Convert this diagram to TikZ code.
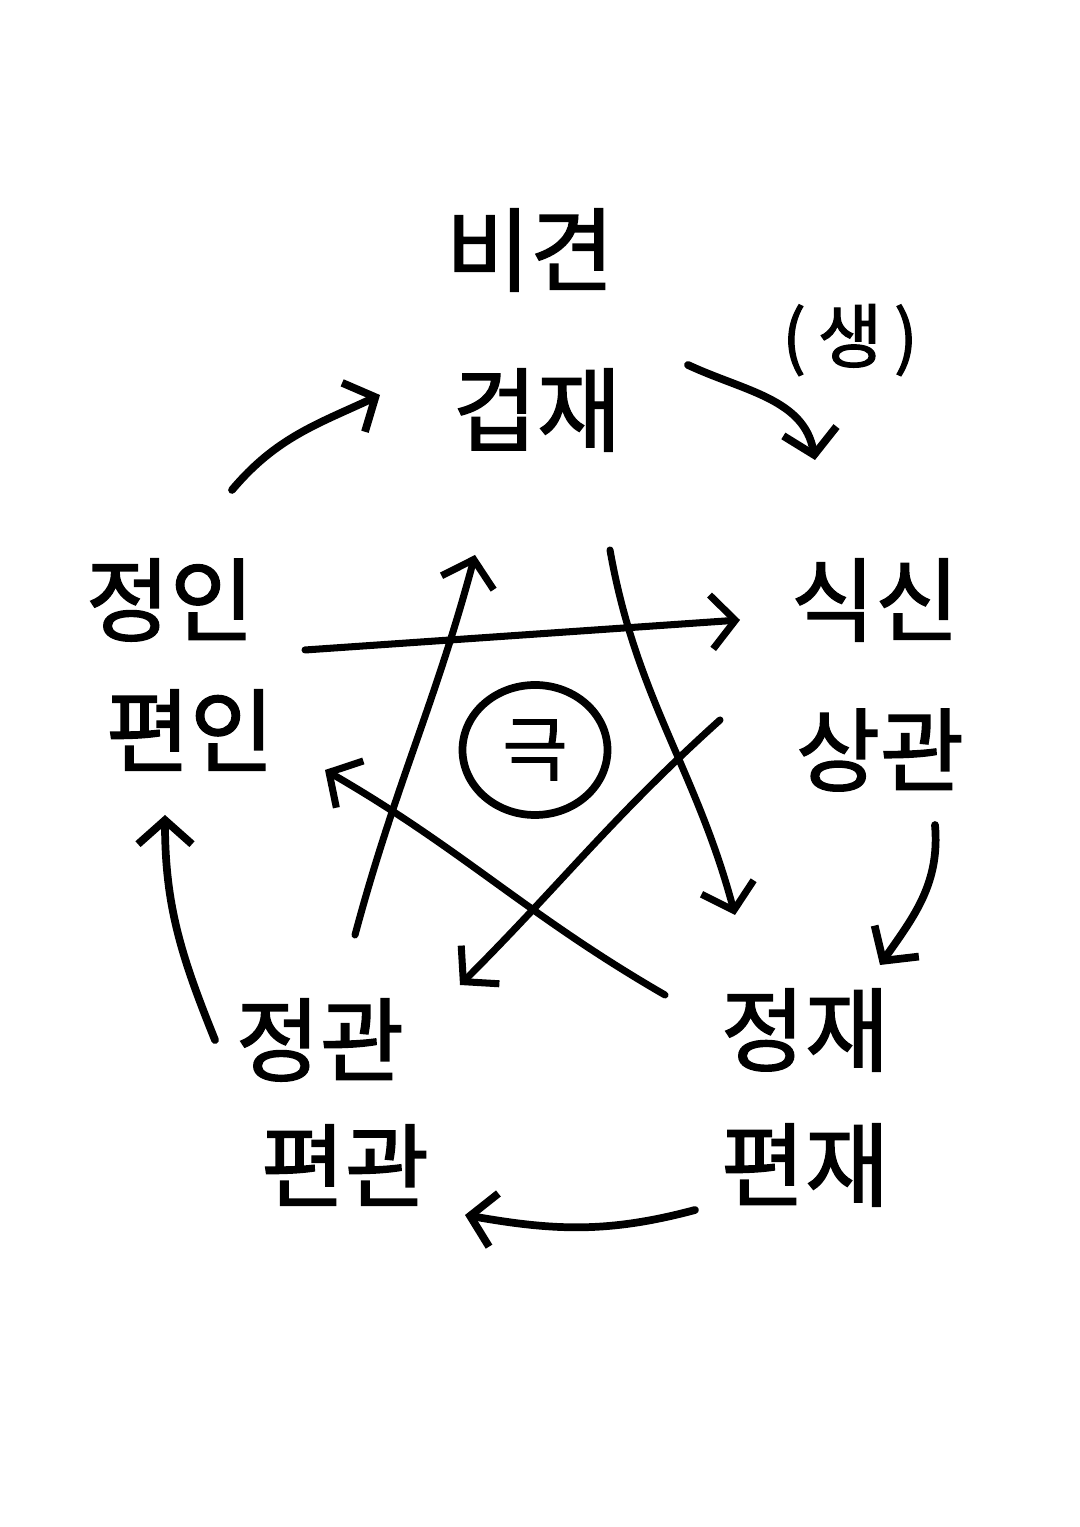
\documentclass[tikz,border=0pt]{standalone}
\usepackage{fontspec}
\setmainfont{Noto Sans CJK KR}
\newfontfamily\handfont[FakeBold=1.6]{Noto Sans CJK KR}
\usetikzlibrary{arrows.meta, shapes.geometric}

\begin{document}
\begin{tikzpicture}[>={Straight Barb[length=2.4mm,width=5.4mm]},
  word/.style={font=\handfont\fontsize{26}{30}\selectfont, inner sep=1pt},
  saeng/.style={->, line width=2.2pt, line cap=round},
  geuk/.style={->, line width=2pt, line cap=round}]
  \useasboundingbox (0,0) rectangle (10.8,15.27);
  \fill[white] (0,0) rectangle (10.8,15.27);
  % labels
  \node[word] (bigyeon)   at (5.30,12.77) {비견};
  \node[word, font=\handfont\fontsize{20}{24}\selectfont] (saenglbl) at (8.50,11.87) {(\,생\,)};
  \node[word] (geopjae)   at (5.37,11.17) {겁재};
  \node[word] (siksin)    at (8.75,9.27)  {식신};
  \node[word] (sanggwan)  at (8.80,7.77)  {상관};
  \node[word] (jeongin)   at (1.70,9.27)  {정인};
  \node[word] (pyeonin)   at (1.90,7.97)  {편인};
  \node[word] (jeonggwan) at (3.20,4.87)  {정관};
  \node[word] (pyeongwan) at (3.45,3.62)  {편관};
  \node[word] (jeongjae)  at (8.05,4.97)  {정재};
  \node[word] (pyeonjae)  at (8.05,3.62)  {편재};
  \node[ellipse, draw, line width=2.2pt, minimum width=1.45cm, minimum height=1.3cm,
        font=\handfont\fontsize{20}{24}\selectfont] (geukmark) at (5.35,7.77) {극};
  % outer cycle
  \draw[saeng] ([shift={(0.62,1.10)}]jeongin.center) to[out=50,in=205] ([shift={(-1.57,0.15)}]geopjae.center);
  \draw[saeng] ([shift={(1.51,0.45)}]geopjae.center) to[out=-25,in=100] ([shift={(-0.60,1.40)}]siksin.center);
  \draw[saeng] ([shift={(0.55,-0.75)}]sanggwan.center) to[out=-85,in=55] ([shift={(0.75,0.65)}]jeongjae.center);
  \draw[saeng] ([shift={(-1.10,-0.45)}]pyeonjae.center) to[out=195,in=-10] ([shift={(1.20,-0.50)}]pyeongwan.center);
  \draw[saeng] ([shift={(-1.05,0.00)}]jeonggwan.center) to[out=112,in=-90] ([shift={(-0.25,-0.85)}]pyeonin.center);
  % star
  \draw[geuk] ([shift={(0.35,1.05)}]jeonggwan.center) to[out=75,in=-105] ([shift={(-0.62,-1.45)}]geopjae.center);
  \draw[geuk] ([shift={(0.73,-1.40)}]geopjae.center) to[out=-80,in=105] ([shift={(-0.70,1.15)}]jeongjae.center);
  \draw[geuk] ([shift={(-1.60,0.30)}]sanggwan.center) to[out=222,in=45] ([shift={(1.40,0.55)}]jeonggwan.center);
  \draw[geuk] ([shift={(-1.40,0.35)}]jeongjae.center) to[out=150,in=-30] ([shift={(1.35,-0.40)}]pyeonin.center);
  \draw[geuk] ([shift={(1.35,-0.50)}]jeongin.center) -- ([shift={(-1.35,-0.20)}]siksin.center);
\end{tikzpicture}
\end{document}
